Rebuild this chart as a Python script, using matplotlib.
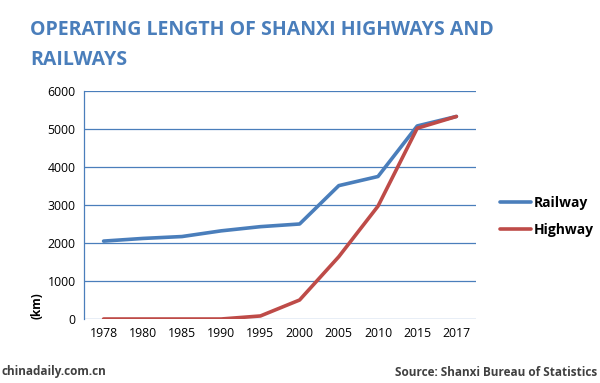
import matplotlib
matplotlib.use("Agg")
import matplotlib.pyplot as plt

years = ["1978", "1980", "1985", "1990", "1995", "2000", "2005", "2010", "2015", "2017"]
railway = [2050, 2120, 2170, 2320, 2430, 2500, 3510, 3750, 5080, 5330]
highway = [0, 0, 0, 0, 80, 500, 1640, 2970, 5020, 5330]
yticks = [0, 1000, 2000, 3000, 4000, 5000, 6000]

plt.rcParams['font.family'] = ['Open Sans', 'DejaVu Sans']

fig = plt.figure(figsize=(6, 3.83), dpi=100)
ax = fig.add_axes([84/600, 1 - 319/383, (476-84)/600, (319-91)/383])

x = list(range(len(years)))
ax.plot(x, railway, color="#4a7ebb", lw=2.6, label="Railway", solid_capstyle="round")
ax.plot(x, highway, color="#be4b48", lw=2.6, label="Highway", solid_capstyle="round")

ax.set_xlim(-0.5, len(years) - 0.5)
ax.set_ylim(0, 6000)
ax.set_yticks(yticks)
ax.set_yticklabels([str(v) for v in yticks])
ax.set_xticks(x)
ax.set_xticklabels(years)
ax.tick_params(length=0, labelsize=8.8, colors="black", pad=6)
ax.grid(axis="y", color="#4a7ebb", lw=0.9)
ax.set_axisbelow(True)
for s in ["top", "right", "bottom"]:
    ax.spines[s].set_visible(False)
ax.spines["left"].set_color("#4a7ebb")
ax.spines["left"].set_linewidth(0.9)

ax.text(-0.12, 0.0, "(km)", transform=ax.transAxes, rotation=90, fontsize=8.5,
        fontweight="bold", ha="center", va="bottom")

leg = fig.legend(loc="upper left", bbox_to_anchor=(487/600, 1 - 183/383), frameon=False,
                 prop={"size": 10, "weight": "bold"}, handlelength=2.3, labelspacing=0.95,
                 handletextpad=0.15)

fig.text(30/600, 1 - 30/383, "OPERATING LENGTH OF SHANXI HIGHWAYS AND", color="#4a7ebb",
         fontsize=14, fontweight="bold", va="center", ha="left")
fig.text(30/600, 1 - 60/383, "RAILWAYS", color="#4a7ebb",
         fontsize=14, fontweight="bold", va="center", ha="left")

fig.text(2/600, 1 - 372/383, "chinadaily.com.cn", color="#404040", fontsize=8.5,
         fontweight="bold", va="center", ha="left")
fig.text(597/600, 1 - 372/383, "Source: Shanxi Bureau of Statistics", color="#404040",
         fontsize=8.5, fontweight="bold", va="center", ha="right")

fig.savefig("out.png", dpi=100)
